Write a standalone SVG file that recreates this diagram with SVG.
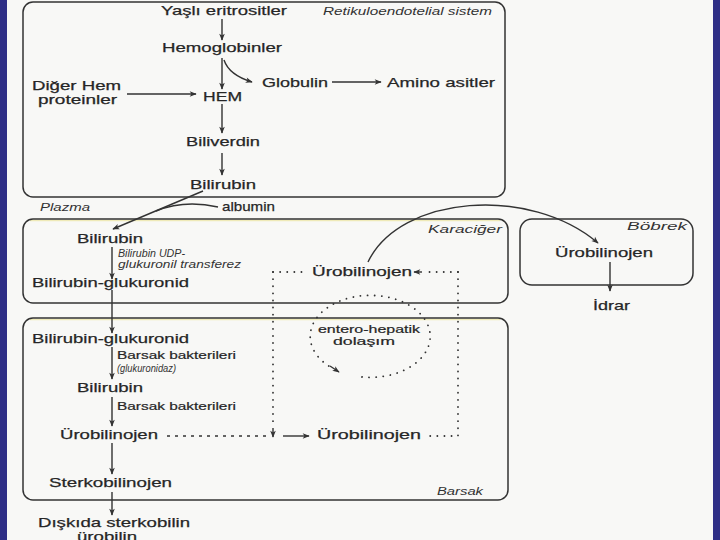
<svg xmlns="http://www.w3.org/2000/svg" width="720" height="540" viewBox="0 0 720 540">
<defs>
<marker id="ah" viewBox="0 0 10 10" refX="9" refY="5" markerWidth="9" markerHeight="7" markerUnits="userSpaceOnUse" orient="auto"><path d="M0,1 L10,5 L0,9 L2.5,5z" fill="#333"/></marker>
<style>
.t{font-family:"Liberation Sans",Arial,sans-serif;font-size:13.5px;fill:#262626;stroke:#262626;stroke-width:0.25}
.s{font-family:"Liberation Sans",Arial,sans-serif;font-size:11.5px;fill:#262626;stroke:#262626;stroke-width:0.2}
.i{font-family:"Liberation Sans",Arial,sans-serif;font-size:10.5px;font-style:italic;fill:#333}
.box{fill:none;stroke:#333;stroke-width:1.5}
.c{fill:none;stroke:#333;stroke-width:1.4}
.a{marker-end:url(#ah)}
.dot{fill:none;stroke:#333;stroke-width:1.8;stroke-linecap:round;stroke-dasharray:0.1 7}
.dash{fill:none;stroke:#333;stroke-width:1.4;stroke-dasharray:3 5}
</style>
</defs>
<rect width="720" height="540" fill="#f8f8f6"/>
<rect x="0" y="0" width="7" height="540" fill="#2e2e86"/>
<rect x="713" y="0" width="7" height="540" fill="#2e2e86"/>
<line x1="30" y1="220.5" x2="500" y2="220.5" stroke="#efeab8" stroke-width="1.5"/>
<line x1="30" y1="319.5" x2="500" y2="319.5" stroke="#efeab8" stroke-width="1.5"/>

<g id="box-retikulo"><rect class="box" x="23" y="2" width="482" height="195" rx="10"/><text class="i" x="323" y="15" textLength="169" lengthAdjust="spacingAndGlyphs">Retikuloendotelial sistem</text></g>
<g id="box-karaciger"><rect class="box" x="23" y="219" width="485" height="84" rx="10"/><text class="i" x="428" y="233" textLength="74" lengthAdjust="spacingAndGlyphs">Karaciğer</text></g>
<g id="box-barsak"><rect class="box" x="23" y="318" width="485" height="182" rx="10"/><text class="i" x="437" y="495" textLength="46" lengthAdjust="spacingAndGlyphs">Barsak</text></g>
<g id="box-bobrek"><rect class="box" x="520" y="219" width="173" height="66" rx="12"/><text class="i" x="627" y="230" textLength="60" lengthAdjust="spacingAndGlyphs">Böbrek</text></g>
<g id="plazma"><text class="i" x="40" y="211" textLength="50" lengthAdjust="spacingAndGlyphs">Plazma</text></g>

<g id="n-yasli"><text class="t" x="161" y="15" textLength="126" lengthAdjust="spacingAndGlyphs">Yaşlı eritrositler</text></g>
<g id="n-hemoglobin"><text class="t" x="162" y="52" textLength="120" lengthAdjust="spacingAndGlyphs">Hemoglobinler</text></g>
<g id="n-globulin"><text class="t" x="262" y="87" textLength="66" lengthAdjust="spacingAndGlyphs">Globulin</text></g>
<g id="n-amino"><text class="t" x="387" y="87" textLength="108" lengthAdjust="spacingAndGlyphs">Amino asitler</text></g>
<g id="n-diger"><text class="t" x="32" y="90" textLength="89" lengthAdjust="spacingAndGlyphs" style="font-size:13px">Diğer Hem</text><text class="t" x="38" y="104" textLength="79" lengthAdjust="spacingAndGlyphs" style="font-size:13px">proteinler</text></g>
<g id="n-hem"><text class="t" x="203" y="101" textLength="39" lengthAdjust="spacingAndGlyphs">HEM</text></g>
<g id="n-biliverdin"><text class="t" x="186" y="146" textLength="74" lengthAdjust="spacingAndGlyphs">Biliverdin</text></g>
<g id="n-bilirubin1"><text class="t" x="190" y="189" textLength="66" lengthAdjust="spacingAndGlyphs">Bilirubin</text></g>
<g id="n-albumin"><text class="t" x="222" y="211" textLength="53" lengthAdjust="spacingAndGlyphs">albumin</text></g>
<g id="n-bilirubin2"><text class="t" x="77" y="243" textLength="66" lengthAdjust="spacingAndGlyphs">Bilirubin</text></g>
<g id="n-bglu1"><text class="t" x="32" y="287" textLength="157" lengthAdjust="spacingAndGlyphs">Bilirubin-glukuronid</text></g>
<g id="n-uro-liver"><text class="t" x="312" y="276" textLength="100" lengthAdjust="spacingAndGlyphs">Ürobilinojen</text></g>
<g id="n-uro-kidney"><text class="t" x="555" y="257" textLength="98" lengthAdjust="spacingAndGlyphs">Ürobilinojen</text></g>
<g id="n-idrar"><text class="t" x="593" y="310" textLength="37" lengthAdjust="spacingAndGlyphs">İdrar</text></g>
<g id="n-bglu2"><text class="t" x="32" y="343" textLength="157" lengthAdjust="spacingAndGlyphs">Bilirubin-glukuronid</text></g>
<g id="n-bilirubin3"><text class="t" x="77" y="392" textLength="66" lengthAdjust="spacingAndGlyphs">Bilirubin</text></g>
<g id="n-uro-gut"><text class="t" x="60" y="439" textLength="98" lengthAdjust="spacingAndGlyphs">Ürobilinojen</text></g>
<g id="n-uro-gut2"><text class="t" x="317" y="439" textLength="104" lengthAdjust="spacingAndGlyphs">Ürobilinojen</text></g>
<g id="n-sterko"><text class="t" x="49" y="487" textLength="123" lengthAdjust="spacingAndGlyphs">Sterkobilinojen</text></g>
<g id="n-diskida"><text class="t" x="38" y="527" textLength="152" lengthAdjust="spacingAndGlyphs">Dışkıda sterkobilin</text><text class="t" x="77" y="541" textLength="60" lengthAdjust="spacingAndGlyphs">ürobilin</text></g>
<g id="n-entero"><text class="s" x="318" y="333" textLength="102" lengthAdjust="spacingAndGlyphs" style="font-size:11px">entero-hepatik</text><text class="s" x="333" y="345" textLength="62" lengthAdjust="spacingAndGlyphs" style="font-size:11px">dolaşım</text></g>

<g id="labels">
<text class="i" x="118" y="257" textLength="67" lengthAdjust="spacingAndGlyphs">Bilirubin UDP-</text>
<text class="i" x="118" y="268" textLength="123" lengthAdjust="spacingAndGlyphs">glukuronil transferez</text>
<text class="s" x="117" y="359" textLength="119" lengthAdjust="spacingAndGlyphs">Barsak bakterileri</text>
<text class="i" x="117" y="372" textLength="59" lengthAdjust="spacingAndGlyphs" style="font-size:10px">(glukuronidaz)</text>
<text class="s" x="117" y="410" textLength="119" lengthAdjust="spacingAndGlyphs">Barsak bakterileri</text>
</g>

<g id="connectors">
<path class="c a" d="M222,19 L222,40"/>
<path class="c a" d="M222,58 L222,89"/>
<path class="c a" d="M224,60 Q229,75 252,82"/>
<path class="c a" d="M332,82 L381,82"/>
<path class="c a" d="M127,94 L196,94"/>
<path class="c a" d="M222,104 L222,133"/>
<path class="c a" d="M222,153 L222,175"/>
<path class="c a" d="M203,191 L113,229"/>
<path class="c" d="M218,207 C200,203 178,202 156,211"/>
<path class="c a" d="M112,247 L112,279"/>
<path class="c a" d="M112,290 L112,333"/>
<path class="c a" d="M112,347 L112,379"/>
<path class="c a" d="M112,397 L112,426"/>
<path class="c a" d="M112,443 L112,474"/>
<path class="c a" d="M112,492 L112,515"/>
<path class="c a" d="M610,262 L610,291"/>
<path class="c a" d="M368,262 C400,195 530,185 598,243"/>
<path class="dot" d="M273,272 L306,272"/>
<path class="dot" d="M458,272 L424,272"/>
<path class="c a" d="M422,272 L414,272"/>
<path class="dot" d="M273,272 L273,428"/>
<path class="c a" d="M273,428 L273,437"/>
<path class="dot" d="M458,272 L458,436 L427,436"/>
<path class="dash" d="M167,436 L267,436"/>
<path class="c a" d="M283,436 L309,436"/>
<path class="dot" d="M362,377 A60,41 0 1 0 332,368"/>
<path class="c a" d="M330,366 L339,372"/>
</g>
</svg>
